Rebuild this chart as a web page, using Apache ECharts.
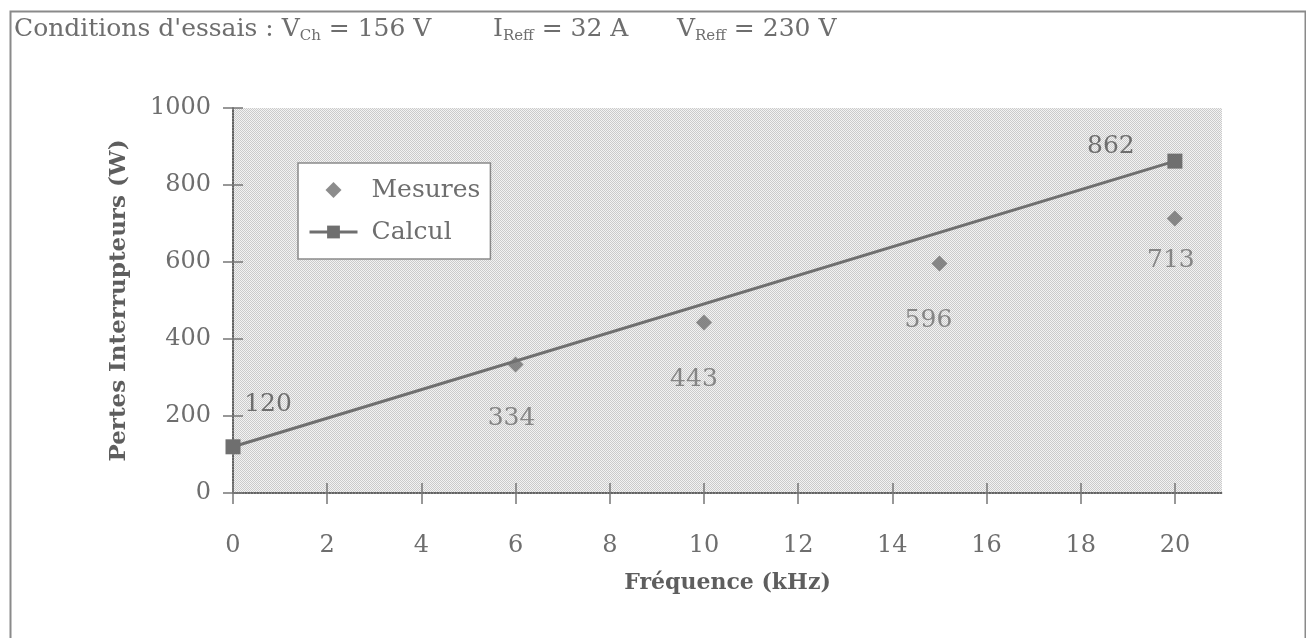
<!DOCTYPE html>
<html>
<head>
<meta charset="utf-8">
<script src="https://cdn.jsdelivr.net/npm/echarts@6/dist/echarts.min.js"></script>
<style>
html,body{margin:0;padding:0;background:#fff;}
#chart{width:1306px;height:638px;}
</style>
</head>
<body>
<div id="chart"></div>
<script>
// ---- data ----
const xTicks = [0, 2, 4, 6, 8, 10, 12, 14, 16, 18, 20];
const yTicks = [0, 200, 400, 600, 800, 1000];
const mesuresX = [6, 10, 15, 20];
const mesuresY = [334, 443, 596, 713];
const calculX = [0, 20];
const calculY = [120, 862];
const seriesNames = ['Mesures', 'Calcul'];

// ---- label placement (styles, not data) ----
const mesuresLabelOffsets = [[-4, 54], [-10, 57], [-11, 57], [-4, 42]];
const calculLabelOffsets = [[35, -42], [-64, -15]];

const FONT = '"DejaVu Serif", "Liberation Serif", serif';
const TXT = '#6e6e6e';
const MARK = '#6f6f6f';

// stipple pattern for plot background
const pat = document.createElement('canvas');
pat.width = 2; pat.height = 2;
const pctx = pat.getContext('2d');
pctx.fillStyle = '#f3f3f3'; pctx.fillRect(0, 0, 2, 2);
pctx.fillStyle = '#cbcbcb'; pctx.fillRect(0, 0, 1, 1); pctx.fillRect(1, 1, 1, 1);

const chart = echarts.init(document.getElementById('chart'), null, {renderer: 'canvas'});

const mesuresData = mesuresX.map((x, i) => ({
  value: [x, mesuresY[i]],
  label: {offset: mesuresLabelOffsets[i]}
}));
const calculData = calculX.map((x, i) => ({
  value: [x, calculY[i]],
  label: {offset: calculLabelOffsets[i]}
}));

const labelStyle = {
  show: true, position: 'inside', fontFamily: FONT, fontSize: 25, color: TXT,
  formatter: p => String(p.value[1])
};

const baseX = {type: 'value', min: 0, max: 21, interval: 1, gridIndex: 0};
const baseY = {type: 'value', min: 0, max: 1000, interval: 200, gridIndex: 0};
const subRich = {s: {fontSize: 15, fontFamily: FONT, fill: TXT, lineHeight: 18, verticalAlign: 'bottom'}};

chart.setOption({
  animation: false,
  backgroundColor: '#ffffff',
  graphic: [
    {type: 'rect', left: 8, top: 9, shape: {width: 1295, height: 640},
     style: {fill: 'none', stroke: '#8a8a8a', lineWidth: 2}, silent: true},
    {type: 'text', left: 14, top: 14,
     style: {text: "Conditions d'essais : V{s|Ch} = 156 V", font: '25px ' + FONT, fill: TXT, lineHeight: 30, rich: subRich}},
    {type: 'text', left: 493, top: 14,
     style: {text: 'I{s|Reff} = 32 A', font: '25px ' + FONT, fill: TXT, lineHeight: 30, rich: subRich}},
    {type: 'text', left: 677, top: 14,
     style: {text: 'V{s|Reff} = 230 V', font: '25px ' + FONT, fill: TXT, lineHeight: 30, rich: subRich}}
  ],
  grid: {
    left: 233, top: 108, width: 989, height: 385,
    show: true, backgroundColor: {image: pat, repeat: 'repeat'}, borderWidth: 0
  },
  legend: {
    orient: 'vertical', left: 298, top: 163,
    padding: [12, 10, 12, 10], itemGap: 12,
    itemWidth: 48, itemHeight: 16,
    backgroundColor: '#ffffff', borderColor: '#8a8a8a', borderWidth: 1.5,
    data: [
      {name: seriesNames[0], icon: 'path://M0,-1L1,0L0,1L-1,0Z', itemStyle: {color: MARK}},
      {name: seriesNames[1]}
    ],
    lineStyle: {width: 3, color: MARK},
    textStyle: {fontFamily: FONT, fontSize: 25, color: TXT, lineHeight: 30, padding: [0, 0, 0, 9]}
  },
  xAxis: [
    Object.assign({}, baseX, {
      position: 'bottom',
      name: 'Fréquence (kHz)', nameLocation: 'middle', nameGap: 79,
      nameTextStyle: {fontFamily: FONT, fontSize: 22, fontWeight: 'bold', color: '#5e5e5e'},
      axisLine: {show: true, lineStyle: {color: '#5a5a5a', width: 1.5, type: 'dotted'}},
      axisTick: {show: true, inside: false, length: 11, customValues: xTicks, lineStyle: {color: '#777', width: 1.5}},
      axisLabel: {show: true, customValues: xTicks, margin: 41, fontFamily: FONT, fontSize: 24, color: TXT},
      splitLine: {show: false}
    }),
    Object.assign({}, baseX, {
      position: 'bottom',
      axisLine: {show: false},
      axisTick: {show: true, inside: true, length: 10, customValues: xTicks, lineStyle: {color: '#777', width: 1.5}},
      axisLabel: {show: false},
      splitLine: {show: false}
    }),
    Object.assign({}, baseX, {
      position: 'top',
      axisLine: {show: true, lineStyle: {color: '#5a5a5a', width: 1.5, type: 'dotted'}},
      axisTick: {show: false}, axisLabel: {show: false}, splitLine: {show: false}
    })
  ],
  yAxis: [
    Object.assign({}, baseY, {
      position: 'left',
      name: 'Pertes Interrupteurs (W)', nameLocation: 'middle', nameGap: 102,
      nameTextStyle: {fontFamily: FONT, fontSize: 23, fontWeight: 'bold', color: '#5e5e5e'},
      axisLine: {show: true, lineStyle: {color: '#5a5a5a', width: 1.5, type: 'dotted'}},
      axisTick: {show: true, inside: false, length: 10, lineStyle: {color: '#777', width: 1.5}},
      axisLabel: {show: true, margin: 22, fontFamily: FONT, fontSize: 24, color: TXT,
        customValues: yTicks, formatter: v => String(v)},
      splitLine: {show: false}
    }),
    Object.assign({}, baseY, {
      position: 'left',
      axisLine: {show: false},
      axisTick: {show: true, inside: true, length: 10, lineStyle: {color: '#777', width: 1.5}},
      axisLabel: {show: false}, splitLine: {show: false}
    }),
    Object.assign({}, baseY, {
      position: 'right',
      axisLine: {show: true, lineStyle: {color: '#5a5a5a', width: 1.5, type: 'dotted'}},
      axisTick: {show: false}, axisLabel: {show: false}, splitLine: {show: false}
    })
  ],
  series: [
    {
      name: seriesNames[0], type: 'scatter', xAxisIndex: 0, yAxisIndex: 0,
      symbol: 'diamond', symbolSize: 16,
      itemStyle: {color: MARK},
      label: labelStyle,
      data: mesuresData, z: 3
    },
    {
      name: seriesNames[1], type: 'line', xAxisIndex: 0, yAxisIndex: 0,
      symbol: 'rect', symbolSize: 15, showAllSymbol: true,
      lineStyle: {color: MARK, width: 3},
      itemStyle: {color: MARK},
      label: labelStyle,
      data: calculData, z: 2
    }
  ]
});
</script>
</body>
</html>
